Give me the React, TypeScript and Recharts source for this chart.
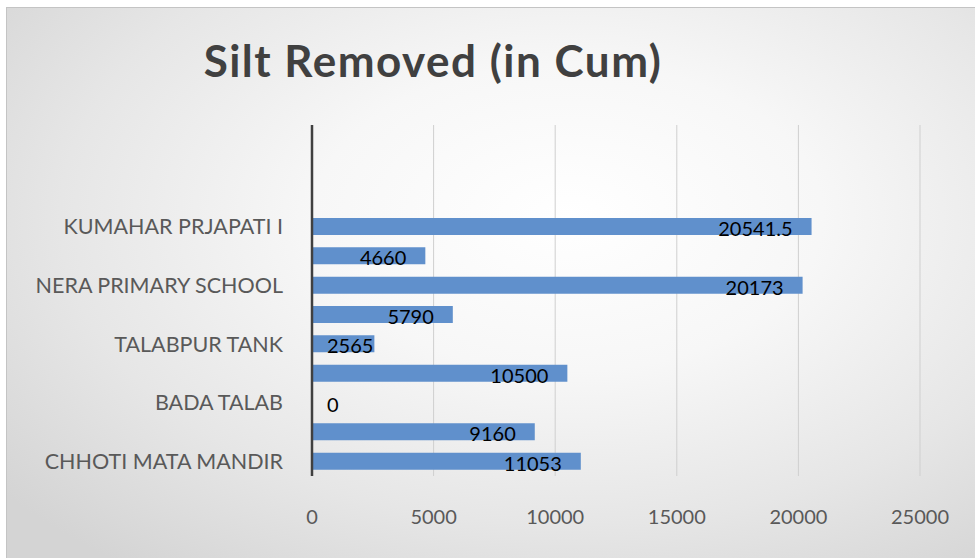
import { BarChart, Bar, XAxis, YAxis, CartesianGrid, LabelList } from "recharts";

// only every other category name is printed on the axis in the source chart
const categories = [
  "KUMAHAR PRJAPATI I",
  "",
  "NERA PRIMARY SCHOOL",
  "",
  "TALABPUR TANK",
  "",
  "BADA TALAB",
  "",
  "CHHOTI MATA MANDIR",
];
const siltRemoved = [20541.5, 4660, 20173, 5790, 2565, 10500, 0, 9160, 11053];
const xTicks = [0, 5000, 10000, 15000, 20000, 25000];

const data = categories.map((name, i) => ({ name, silt: siltRemoved[i] }));

const AXIS_X = 312;

const renderLabel = (props: any) => {
  const { x, y, width, height, value } = props;
  const txt = String(value);
  const est = txt.replace(".", "").length * 11.3 + (txt.includes(".") ? 5 : 0);
  const end = x + width - 19;
  const cy = y + height / 2 + 1.5;
  const clamp = end - est < AXIS_X + 16;
  return (
    <text
      x={clamp ? AXIS_X + 15 : end}
      y={cy}
      textAnchor={clamp ? "start" : "end"}
      dominantBaseline="central"
      fill="#000"
      fontSize={20}
      fontFamily="Lato"
    >
      {txt}
    </text>
  );
};

export default function App() {
  return (
    <div
      style={{
        position: "absolute",
        left: 0,
        top: 0,
        width: 975,
        height: 558,
        background: "#fff",
        fontFamily: "Lato",
      }}
    >
      <div
        style={{
          position: "absolute",
          left: 6,
          top: 7,
          width: 969,
          height: 551,
          borderTop: "1px solid #c4c4c4",
          borderLeft: "1px solid #c4c4c4",
          boxSizing: "border-box",
          background:
            "radial-gradient(ellipse 75% 80% at 58% 38%, #ffffff 0%, #f7f7f7 35%, #e6e6e6 70%, #d4d4d4 100%)",
        }}
      />
      <div
        style={{
          position: "absolute",
          left: 0,
          top: 38,
          width: 866,
          textAlign: "center",
          fontSize: 44,
          lineHeight: "44px",
          fontWeight: 700,
          letterSpacing: 1.5,
          color: "#404040",
        }}
      >
        Silt Removed (in Cum)
      </div>
      <div style={{ position: "absolute", left: 0, top: 0 }}>
        <BarChart
          width={975}
          height={558}
          data={data}
          layout="vertical"
          margin={{ top: 125, right: 55, left: 0, bottom: 42 }}
        >
          <CartesianGrid horizontal={false} stroke="#cfcfcf" />
          <XAxis
            type="number"
            domain={[0, 25000]}
            ticks={xTicks}
            axisLine={false}
            tickLine={false}
            tickSize={0}
            tickMargin={34}
            height={40}
            tick={{ fill: "#595959", fontSize: 20, fontFamily: "Lato" }}
          />
          <Bar
            dataKey="silt"
            fill="#6090cc"
            barSize={17}
            minPointSize={1}
            isAnimationActive={false}
          >
            <LabelList dataKey="silt" content={renderLabel} />
          </Bar>
          <YAxis
            type="category"
            width={312}
            padding={{ top: 87, bottom: 0 }}
            interval={0}
            tickFormatter={(i: number) => categories[i]}
            axisLine={{ stroke: "#404040", strokeWidth: 2.5 }}
            tickLine={false}
            tickSize={0}
            tickMargin={29}
            tick={{ fill: "#595959", fontSize: 21.5, fontFamily: "Lato" }}
          />
        </BarChart>
      </div>
    </div>
  );
}
